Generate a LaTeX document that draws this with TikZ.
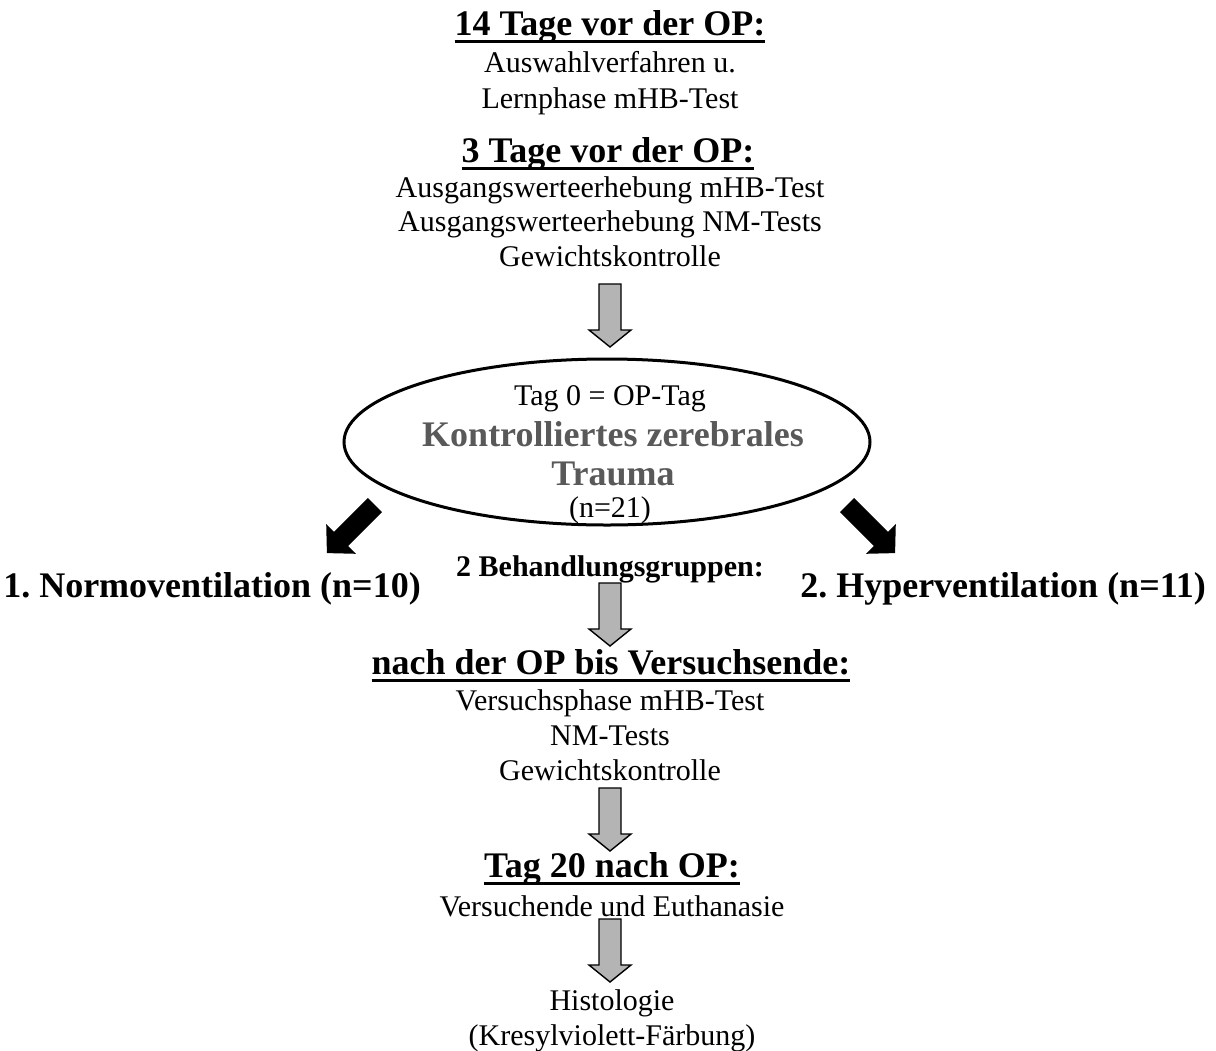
\documentclass[tikz,border=0pt]{standalone}
\usepackage{fontspec}
\setmainfont{Liberation Serif}
\definecolor{arrowgray}{HTML}{B4B4B4}
\definecolor{titlegray}{HTML}{595959}
\newcommand\myul[1]{\setbox0\hbox{#1}\rlap{\rule[-8pt]{\wd0}{2.6pt}}\box0}
\tikzset{
  txt/.style={inner sep=0pt, anchor=base, font=\fontsize{30}{34.5}\selectfont},
  head/.style={inner sep=0pt, anchor=base, font=\fontsize{36}{41}\selectfont\bfseries},
  grp/.style={inner sep=0pt, anchor=base, font=\fontsize{36}{41}\selectfont\bfseries},
  sub/.style={inner sep=0pt, anchor=base, font=\fontsize{30}{34.5}\selectfont\bfseries},
  downarrow/.pic={\draw[fill=arrowgray, line width=1.4pt, line join=miter]
     (-11,0) -- (11,0) -- (11,46) -- (21,46) -- (0,63) -- (-21,46) -- (-11,46) -- cycle;},
  blackarrow/.pic={\fill[black]
     (-10,0) -- (10,0) -- (10,48) -- (21,48) -- (0,68) -- (-21,48) -- (-10,48) -- cycle;}
}
\begin{document}
\frenchspacing
\begin{tikzpicture}[x=1pt,y=-1pt]
\useasboundingbox (0,0) rectangle (1216,1050);
% top block
\node[head] (h1) at (610,35) {\myul{14 Tage vor der OP:}};
\node[txt] (t1a) at (610,72) {Auswahlverfahren u.};
\node[txt] (t1b) at (610,108) {Lernphase mHB-Test};
\node[head] (h2) at (608,162) {\myul{3 Tage vor der OP:}};
\node[txt] (t2a) at (610,197) {Ausgangswerteerhebung mHB-Test};
\node[txt] (t2b) at (610,231) {Ausgangswerteerhebung NM-Tests};
\node[txt] (t2c) at (610,266) {Gewichtskontrolle};
\pic at (610,284) {downarrow};
% ellipse
\draw[line width=3pt] (607,442) ellipse [x radius=263, y radius=83];
\node[txt] (e1) at (610,405) {Tag 0 = OP-Tag};
\node[head, text=titlegray] (e2) at (613,446) {Kontrolliertes zerebrales};
\node[head, text=titlegray] (e3) at (613,485) {Trauma};
\node[txt] (e4) at (610,517) {(n=21)};
% diagonal arrows
\pic[rotate=-45] at (375,505) {blackarrow};
\pic[rotate=45] at (847,505) {blackarrow};
% groups
\node[grp] (g1) at (212,597) {1. Normoventilation (n=10)};
\node[grp] (g2) at (1003,597) {2. Hyperventilation (n=11)};
\node[sub] (g0) at (610,576) {2 Behandlungsgruppen:};
\pic at (610,583) {downarrow};
% after op
\node[head] (h3) at (611,674) {\myul{nach der OP bis Versuchsende:}};
\node[txt] (t3a) at (610,710) {Versuchsphase mHB-Test};
\node[txt] (t3b) at (610,745) {NM-Tests};
\node[txt] (t3c) at (610,780) {Gewichtskontrolle};
\pic at (610,788) {downarrow};
\node[head] (h4) at (612,877) {\myul{Tag 20 nach OP:}};
\node[txt] (t4a) at (612,916) {Versuchende und Euthanasie};
\pic at (610,919) {downarrow};
\node[txt] (t5a) at (612,1010) {Histologie};
\node[txt] (t5b) at (612,1045) {(Kresylviolett-Färbung)};
\end{tikzpicture}
\end{document}
